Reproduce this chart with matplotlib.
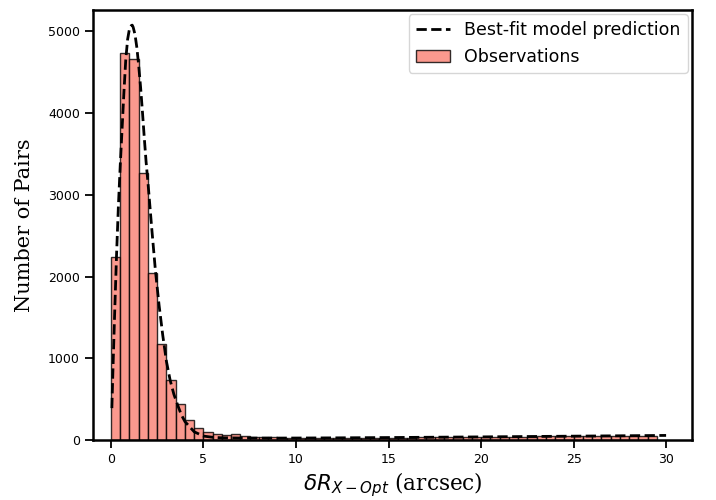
import numpy as np
import matplotlib
matplotlib.use("Agg")
import matplotlib.pyplot as plt

# Histogram bins (arcsec) and observed pair counts
bin_edges = [i * 0.5 for i in range(60)]  # 0.0 ... 29.5
counts = [2240, 4740, 4660, 3270, 2040, 1180, 730, 440, 240, 150,
          95, 78, 57, 72, 47, 38, 34, 31, 29, 28,
          27, 26, 26, 25, 25, 26, 26, 27, 27, 28,
          29, 30, 30, 31, 32, 33, 33, 34, 35, 36,
          37, 38, 39, 40, 41, 42, 43, 44, 45, 46,
          47, 48, 49, 50, 51, 52, 53, 54, 55]

# Best-fit model prediction
model_x = [0.05, 0.1, 0.2, 0.3, 0.4, 0.5, 0.6, 0.7, 0.8, 0.9, 1.0, 1.1, 1.15,
           1.2, 1.3, 1.4, 1.5, 1.6, 1.7, 1.8, 1.9, 2.0, 2.2, 2.4, 2.6, 2.8,
           3.0, 3.2, 3.4, 3.6, 3.8, 4.0, 4.5, 5.0, 5.5, 6.0, 7.0, 8.0, 10.0,
           12.0, 15.0, 20.0, 25.0, 30.0]
model_y = [390, 800, 1550, 2250, 2850, 3350, 3800, 4250, 4650, 4900, 5030, 5070, 5075,
           5050, 4960, 4800, 4580, 4320, 4020, 3700, 3400, 3150, 2600, 2080, 1650, 1280,
           960, 730, 560, 430, 310, 225, 100, 48, 33, 27, 24, 23, 24,
           26, 30, 38, 47, 56]

fig = plt.figure(figsize=(7.16, 5.0), dpi=100)
ax = fig.add_axes([93 / 716, 60 / 500, (692 - 93) / 716, (440 - 10) / 500])

ax.bar(bin_edges[:len(counts)], counts, width=0.5, align="edge",
       color="salmon", alpha=0.8, edgecolor="black", linewidth=1.0,
       label="Observations")
ax.plot(model_x, model_y, color="black", linestyle="--", linewidth=2.0,
        label="Best-fit model prediction")

ax.set_xlim(-0.97, 31.4)
ax.set_ylim(0, 5260)
ax.set_xticks([0, 5, 10, 15, 20, 25, 30])
ax.set_yticks([0, 1000, 2000, 3000, 4000, 5000])

for s in ax.spines.values():
    s.set_linewidth(1.8)
ax.tick_params(axis="both", which="major", direction="out", length=6,
               width=1.3, labelsize=9)

ax.set_xlabel(r"$\delta R_{X-Opt}$ (arcsec)", family="serif", fontsize=15.5,
              labelpad=3)
ax.set_ylabel("Number of Pairs", family="serif", fontsize=15, labelpad=10)

handles, labels = ax.get_legend_handles_labels()
order = [labels.index("Best-fit model prediction"), labels.index("Observations")]
ax.legend([handles[i] for i in order], [labels[i] for i in order],
          loc="upper right", fontsize=12.5, frameon=True, borderaxespad=0.25)

fig.savefig("out.png", dpi=100)
